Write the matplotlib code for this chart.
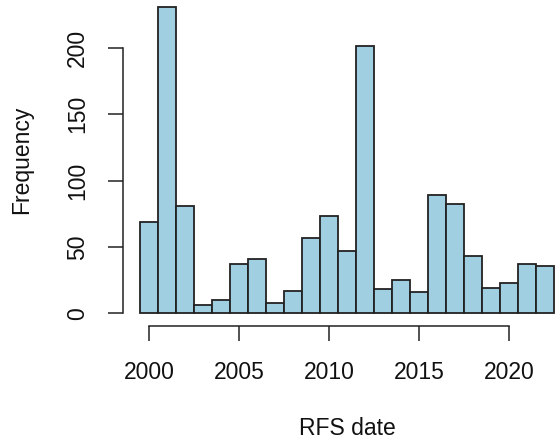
import matplotlib
matplotlib.use("Agg")
import matplotlib.pyplot as plt
import numpy as np

# Yearly counts of RFS dates (one-year bins centred on each year)
years = [2000, 2001, 2002, 2003, 2004, 2005, 2006, 2007, 2008, 2009, 2010, 2011,
         2012, 2013, 2014, 2015, 2016, 2017, 2018, 2019, 2020, 2021, 2022]
counts = [69, 231, 81, 6, 10, 37, 41, 8, 17, 57, 73, 47,
          201, 18, 25, 16, 89, 82, 43, 19, 23, 37, 36]
x_ticks = [2000, 2005, 2010, 2015, 2020]
y_ticks = [0, 50, 100, 150, 200]

plt.rcParams['font.family'] = ['Liberation Sans', 'DejaVu Sans']

W, H = 555, 440
fig = plt.figure(figsize=(W / 100, H / 100), dpi=100)

# plot region in pixels (R-style 4% padding around the data range)
x0, x1 = 1998.58, 2023.42
y0, y1 = -9.24, 240.24
left_px, right_px = 123.4, 570.6
top_px, bot_px = -5.7, 325.6
ax = fig.add_axes([left_px / W, 1 - bot_px / H,
                   (right_px - left_px) / W, (bot_px - top_px) / H])
ax.set_xlim(x0, x1)
ax.set_ylim(y0, y1)

edges = np.array(years) - 0.5
ax.bar(edges, counts, width=1.0, align='edge', color='#A0CFE1',
       edgecolor='#222222', linewidth=1.3)

for s in ['top', 'right']:
    ax.spines[s].set_visible(False)
ax.spines['left'].set_bounds(y_ticks[0], y_ticks[-1])
ax.spines['bottom'].set_bounds(x_ticks[0], x_ticks[-1])
for s in ['left', 'bottom']:
    ax.spines[s].set_linewidth(1.1)
    ax.spines[s].set_color('#222222')

ax.set_xticks(x_ticks)
ax.set_yticks(y_ticks)
ax.set_xticklabels([str(t) for t in x_ticks])
ax.set_yticklabels([str(t) for t in y_ticks], rotation=90, va='center')
ax.tick_params(axis='both', direction='out', length=10.8, width=1.1,
               color='#222222', labelsize=16.5, labelcolor='#111111')
ax.tick_params(axis='x', pad=14.5)
ax.tick_params(axis='y', pad=14)

fig.text(347 / W, 1 - 428 / H, 'RFS date', ha='center', va='center',
         fontsize=16.5, color='#111111')
fig.text(22 / W, 1 - 160 / H, 'Frequency', ha='center', va='center',
         rotation=90, fontsize=16.5, color='#111111')

fig.savefig('out.png', dpi=100)
